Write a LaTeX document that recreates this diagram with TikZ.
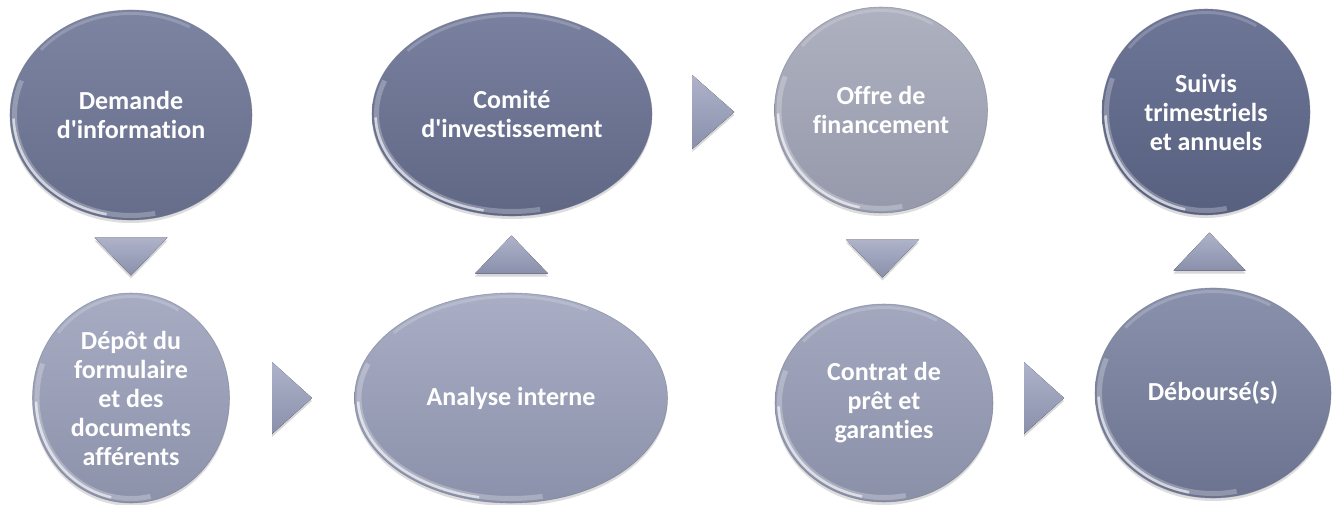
\documentclass[tikz,border=0pt]{standalone}
\usepackage{fontspec}
\setmainfont{Carlito}[Ligatures=NoCommon]
\usetikzlibrary{shapes.geometric,shadows,calc}

% stage colours (top / bottom of the vertical gradient)
\definecolor{demT}{HTML}{7C84A2}\definecolor{demB}{HTML}{656D8B}
\definecolor{depT}{HTML}{A7ACC3}\definecolor{depB}{HTML}{8C92AA}
\definecolor{comT}{HTML}{7A81A0}\definecolor{comB}{HTML}{5F6785}
\definecolor{anaT}{HTML}{A9AEC5}\definecolor{anaB}{HTML}{8B91AA}
\definecolor{offT}{HTML}{AEB1BF}\definecolor{offB}{HTML}{9599AB}
\definecolor{conT}{HTML}{A3A8BF}\definecolor{conB}{HTML}{8A90A8}
\definecolor{debT}{HTML}{8A91AC}\definecolor{debB}{HTML}{6C7390}
\definecolor{suiT}{HTML}{6E7697}\definecolor{suiB}{HTML}{57607F}
\definecolor{chevT}{HTML}{AEB3CA}\definecolor{chevB}{HTML}{8A90AB}
\definecolor{rimdark}{HTML}{6E7389}

\tikzset{
  stage/.style n args={2}{ellipse, inner sep=0pt, align=center, text=white,
    font=\bfseries\fontsize{26}{29}\selectfont,
    minimum width=#1pt, minimum height=#2pt,
    draw=rimdark, draw opacity=0.55, line width=0.6pt,
    drop shadow={shadow xshift=0pt, shadow yshift=-3pt, opacity=0.22, fill=black!60}},
  chev/.style={top color=chevT, bottom color=chevB,
    drop shadow={shadow xshift=0pt, shadow yshift=-3pt, opacity=0.25, fill=black!60}},
  rimA/.style={white, line width=5pt, opacity=0.25, line cap=butt},
  rimB/.style={white, line width=2.6pt, opacity=0.6, line cap=butt},
  rimC/.style={white, line width=3pt, opacity=0.18, line cap=butt},
}

% soft light rim inside an elliptic stage: node, half width, half height
\newcommand\rimlight[3]{%
  \pgfmathsetmacro\rimxa{#2-4.5}\pgfmathsetmacro\rimya{#3-4.5}%
  \pgfmathsetmacro\rimxb{#2-3.5}\pgfmathsetmacro\rimyb{#3-3.5}%
  \draw[rimA] (#1.center) ++(160:\rimxa pt and \rimya pt)
     arc[start angle=160, end angle=282, x radius=\rimxa pt, y radius=\rimya pt];
  \draw[rimB] (#1.center) ++(182:\rimxb pt and \rimyb pt)
     arc[start angle=182, end angle=258, x radius=\rimxb pt, y radius=\rimyb pt];
  \draw[rimC] (#1.center) ++(60:\rimxb pt and \rimyb pt)
     arc[start angle=60, end angle=140, x radius=\rimxb pt, y radius=\rimyb pt];
}

\begin{document}
\begin{tikzpicture}[x=1pt, y=1pt]
\useasboundingbox (0,0) rectangle (1334,-504);
\fill[white] (0,0) rectangle (1334,-504);

% process stages
\node[stage={242}{210}, top color=demT, bottom color=demB] (dem) at (131,-115) {Demande\\d\textquotesingle information};
\node[stage={197}{210}, top color=depT, bottom color=depB] (dep) at (131,-398) {Dépôt du\\formulaire\\et des\\documents\\afférents};
\node[stage={313}{210}, top color=anaT, bottom color=anaB] (ana) at (511,-398) {Analyse interne};
\node[stage={280}{204}, top color=comT, bottom color=comB] (com) at (512,-114) {Comité\\d\textquotesingle investissement};
\node[stage={213}{206}, top color=offT, bottom color=offB] (off) at (881,-110) {Offre de\\financement};
\node[stage={218}{198}, top color=conT, bottom color=conB] (con) at (884,-403) {Contrat de\\prêt et\\garanties};
\node[stage={236}{210}, top color=debT, bottom color=debB] (deb) at (1213,-393) {Déboursé(s)};
\node[stage={208}{206}, top color=suiT, bottom color=suiB] (sui) at (1206,-112) {Suivis\\trimestriels\\et annuels};

\rimlight{dem}{121}{105}
\rimlight{dep}{98.5}{105}
\rimlight{ana}{156.5}{105}
\rimlight{com}{140}{102}
\rimlight{off}{106.5}{103}
\rimlight{con}{109}{99}
\rimlight{deb}{118}{105}
\rimlight{sui}{104}{103}

% chevrons between consecutive stages
\coordinate (c1) at ($(dem.south)!0.5!(dep.north)$);
\coordinate (c2) at ($(dep.east)!0.5!(ana.west)$);
\coordinate (c3) at ($(ana.north)!0.5!(com.south)$);
\coordinate (c4) at ($(com.east)!0.5!(off.west)$);
\coordinate (c5) at ($(off.south)!0.5!(con.north)$);
\coordinate (c6) at ($(con.east)!0.5!(deb.west)$);
\coordinate (c7) at ($(deb.north)!0.5!(sui.south)$);

\fill[chev] (c1) ++(-36.5,19) -- ++(73,0) -- ++(-36.5,-38) -- cycle;
\fill[chev] (c2) ++(-20,36) -- ++(40,-36) -- ++(-40,-36) -- cycle;
\fill[chev] (c3) ++(-36.5,-19) -- ++(73,0) -- ++(-36.5,38) -- cycle;
\fill[chev] (c4) ++(-21,37) -- ++(42,-37) -- ++(-42,-37) -- cycle;
\fill[chev] (c5) ++(-36.5,19) -- ++(73,0) -- ++(-36.5,-38) -- cycle;
\fill[chev] (c6) ++(-20,36) -- ++(40,-36) -- ++(-40,-36) -- cycle;
\fill[chev] (c7) ++(-36,-19) -- ++(72,0) -- ++(-36,38) -- cycle;
\end{tikzpicture}
\end{document}
